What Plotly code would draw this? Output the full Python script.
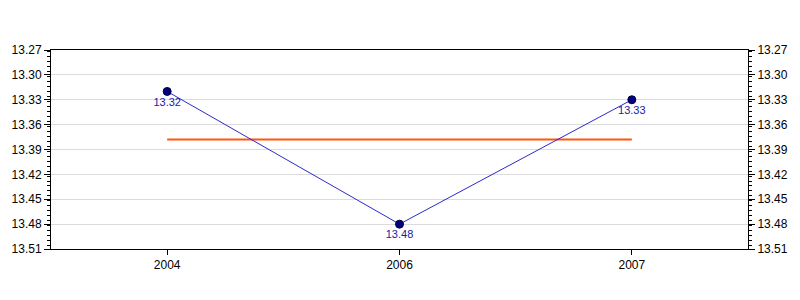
import plotly.graph_objects as go

categories = ["2004", "2006", "2007"]
values = [13.32, 13.48, 13.33]
avg_value = 13.378
y_ticks = [13.27, 13.30, 13.33, 13.36, 13.39, 13.42, 13.45, 13.48, 13.51]
y_tick_text = ["%.2f" % v for v in y_ticks]

FONT = "Liberation Sans, Arial, sans-serif"

fig = go.Figure()
fig.add_trace(go.Scatter(
    x=categories, y=[avg_value] * len(categories), mode="lines",
    line=dict(color="#ff5511", width=2), hoverinfo="skip", showlegend=False,
))
fig.add_trace(go.Scatter(
    x=categories, y=values, mode="lines+markers+text",
    line=dict(color="#2b2bcc", width=1),
    marker=dict(color="#000080", size=8, line=dict(color="#000040", width=1)),
    text=["%.2f" % v for v in values], textposition="bottom center",
    textfont=dict(family=FONT, size=11, color="#1a1aa6"),
    showlegend=False,
))
# invisible trace for right axis
fig.add_trace(go.Scatter(x=categories, y=values, yaxis="y2", mode="markers",
                         marker=dict(opacity=0), hoverinfo="skip", showlegend=False))

yax = dict(
    range=[13.51, 13.27], tickvals=y_ticks, ticktext=y_tick_text,
    ticks="outside", ticklen=6, tickcolor="black", showline=True, linecolor="black",
    linewidth=1, showgrid=True, gridcolor="#dcdcdc", zeroline=False,
    minor=dict(dtick=0.006, ticks="outside", ticklen=3, tickcolor="black", showgrid=False),
    tickfont=dict(family=FONT, size=12, color="black"),
)
fig.update_layout(
    width=800, height=300, margin=dict(l=49, r=50, t=50, b=51),
    paper_bgcolor="white", plot_bgcolor="white",
    xaxis=dict(type="category", range=[-0.5, 2.5], showline=True, linecolor="black",
               mirror=True, ticks="outside", ticklen=5, tickcolor="black", showgrid=False,
               tickfont=dict(family=FONT, size=12, color="black")),
    yaxis=yax,
    yaxis2=dict(yax, overlaying="y", side="right", showgrid=False),
)
fig.write_html("out.html")
